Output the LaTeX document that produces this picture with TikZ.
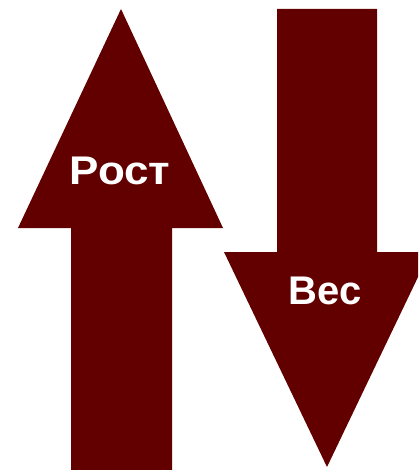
\documentclass[tikz,border=0pt]{standalone}
\usepackage{fontspec}
\setmainfont{Liberation Sans}
\definecolor{arrowred}{RGB}{98,0,0}
\tikzset{
  bigarrow/.style={fill=arrowred, draw=none},
  arrowlabel/.style={text=white, font=\fontsize{40}{40}\selectfont\bfseries, inner sep=0pt, anchor=center}
}
\begin{document}
\begin{tikzpicture}[x=1pt,y=-1pt]
\useasboundingbox (0,0) rectangle (418,470);
\clip (0,0) rectangle (418,470);
\fill[white] (0,0) rectangle (418,470);
% up arrow
\path[bigarrow] (121,9) -- (223,228) -- (172,228) -- (172,472) -- (71,472) -- (71,228) -- (18,228) -- cycle;
% down arrow
\path[bigarrow] (277,9) -- (377,9) -- (377,252) -- (430,252) -- (327,467) -- (224,252) -- (277,252) -- cycle;
\node[arrowlabel, xscale=1.1] (rost) at (120,171) {Рост};
\node[arrowlabel] (ves) at (325,291) {Вес};
\end{tikzpicture}
\end{document}
